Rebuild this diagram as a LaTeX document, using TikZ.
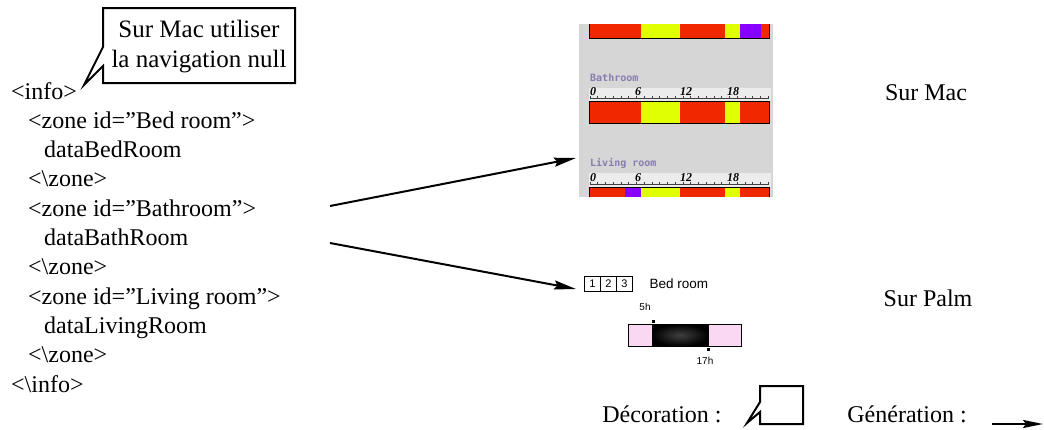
\documentclass[tikz,border=0pt]{standalone}
\usepackage{fontspec}
\setmainfont{Liberation Serif}
\setsansfont{Liberation Sans}
\setmonofont{DejaVu Sans Mono}
\usepackage{xcolor}
\usetikzlibrary{arrows.meta, positioning}

\definecolor{macred}{RGB}{240,40,0}
\definecolor{macyellow}{RGB}{224,255,0}
\definecolor{macpurple}{RGB}{136,0,255}
\definecolor{macgray}{RGB}{214,214,214}
\definecolor{macstrip}{RGB}{236,236,236}
\definecolor{maclabel}{RGB}{136,124,176}
\definecolor{palmpink}{RGB}{250,216,244}

\begin{document}
\begin{tikzpicture}[x=1pt, y=-1pt,
    xmlline/.style={anchor=base west, inner sep=0pt, font=\fontsize{24}{29}\selectfont},
    bigtext/.style={anchor=base, inner sep=0pt, font=\fontsize{24}{29}\selectfont},
    notetext/.style={anchor=base, inner sep=0pt, font=\fontsize{25}{30}\selectfont},
    roomname/.style={anchor=base west, inner sep=0pt, text=maclabel, font=\ttfamily\bfseries\fontsize{10}{10}\selectfont},
    hourmark/.style={anchor=base west, inner sep=0pt, font=\bfseries\itshape\fontsize{12}{12}\selectfont},
    hourtick/.style={line width=0.8pt, black!75},
    palmcell/.style={draw, line width=1pt, minimum width=16pt, minimum height=15pt, inner sep=0pt, outer sep=0pt, font=\sffamily\fontsize{11}{11}\selectfont},
    palmtext/.style={inner sep=0pt, font=\sffamily\fontsize{13.5}{14}\selectfont},
    palmhour/.style={inner sep=0pt, font=\sffamily\fontsize{10}{10}\selectfont},
    bubble/.style={line width=2pt, line join=miter},
    arrow/.style={line width=2pt, -{Stealth[length=22pt, width=9pt, inset=3pt]}}
]
    \useasboundingbox (0,0) rectangle (1044,429);

    % XML listing
    \node[xmlline] (l1) at (11,99) {<info>};
    \node[xmlline] (l2) at (28,128.3) {<zone id=”Bed room”>};
    \node[xmlline] (l3) at (44,157.6) {dataBedRoom};
    \node[xmlline] (l4) at (28,186.9) {<\textbackslash zone>};
    \node[xmlline] (l5) at (28,216.2) {<zone id=”Bathroom”>};
    \node[xmlline] (l6) at (44,245.5) {dataBathRoom};
    \node[xmlline] (l7) at (28,274.8) {<\textbackslash zone>};
    \node[xmlline] (l8) at (28,304.1) {<zone id=”Living room”>};
    \node[xmlline] (l9) at (44,333.4) {dataLivingRoom};
    \node[xmlline] (l10) at (28,362.7) {<\textbackslash zone>};
    \node[xmlline] (l11) at (11,392) {<\textbackslash info>};

    % Note bubble
    \draw[bubble] (103,8) -- (295,8) -- (295,83) -- (103,83) -- (103,66) -- (84,85) -- (103,47) -- cycle;
    \node[notetext] (note1) at (199,37) {Sur Mac utiliser};
    \node[notetext] (note2) at (199,67) {la navigation null};

    % Mac screenshot
    \fill[macgray] (579,24) rectangle (773,197);
    % top bar (cut)
    \fill[macred] (589,24) rectangle (641,38);
    \fill[macyellow] (641,24) rectangle (680,38);
    \fill[macred] (680,24) rectangle (725,38);
    \fill[macyellow] (725,24) rectangle (740,38);
    \fill[macpurple] (740,24) rectangle (761,38);
    \fill[macred] (761,24) rectangle (769,38);
    \draw[line width=1pt] (589,24) -- (589,38) -- (769,38) -- (769,24);

    % Bathroom
    \node[roomname] (bathname) at (590,81) {Bathroom};
    \fill[macstrip] (589,88) rectangle (771,101);
    \draw[hourtick] (590,98) -- (769,98);
    \foreach \h in {0,...,23}
        \draw[hourtick] ({590+7.75*\h},95.5) -- ++(0,3);
    \node[hourmark] (bath0) at (590,95) {0};
    \node[hourmark] (bath6) at (635,95) {6};
    \node[hourmark] (bath12) at (680,95) {12};
    \node[hourmark] (bath18) at (727,95) {18};
    \fill[macred] (589,101) rectangle (641,123);
    \fill[macyellow] (641,101) rectangle (680,123);
    \fill[macred] (680,101) rectangle (725,123);
    \fill[macyellow] (725,101) rectangle (740,123);
    \fill[macred] (740,101) rectangle (769,123);
    \draw[line width=1pt] (589,101) rectangle (769,123);

    % Living room
    \node[roomname] (livingname) at (590,166) {Living room};
    \fill[macstrip] (589,173) rectangle (771,187);
    \draw[hourtick] (590,184) -- (769,184);
    \foreach \h in {0,...,23}
        \draw[hourtick] ({590+7.75*\h},181.5) -- ++(0,3);
    \node[hourmark] (liv0) at (590,181) {0};
    \node[hourmark] (liv6) at (635,181) {6};
    \node[hourmark] (liv12) at (680,181) {12};
    \node[hourmark] (liv18) at (727,181) {18};
    \fill[macred] (589,187) rectangle (625,197);
    \fill[macpurple] (625,187) rectangle (641,197);
    \fill[macyellow] (641,187) rectangle (680,197);
    \fill[macred] (680,187) rectangle (725,197);
    \fill[macyellow] (725,187) rectangle (740,197);
    \fill[macred] (740,187) rectangle (769,197);
    \draw[line width=1pt] (589,197) -- (589,187) -- (769,187) -- (769,197);

    % Palm screenshot
    \node[palmcell] (c1) at (592.5,284) {1};
    \node[palmcell, right=0pt of c1] (c2) {2};
    \node[palmcell, right=0pt of c2] (c3) {3};
    \node[palmtext, right=17pt of c3] (bedroom) {Bed room};
    \node[palmhour] (h5) at (645,307) {5h};
    \fill (652,319.5) rectangle (655,322.5);
    \fill[palmpink] (628,324) rectangle (652,346);
    \shade[inner color=black!75, outer color=black] (652,324) rectangle (708,346);
    \fill[palmpink] (708,324) rectangle (741,346);
    \draw[line width=1pt] (628,324) rectangle (741,346);
    \draw[line width=1pt] (652,324) -- (652,346) (708,324) -- (708,346);
    \fill (707,348) rectangle (710,351);
    \node[palmhour] (h17) at (705,361) {17h};

    % Generation arrows
    \coordinate (srcmac) at (330,206);
    \coordinate (dstmac) at (576,158);
    \coordinate (srcpalm) at (330,243);
    \coordinate (dstpalm) at (576,289);
    \draw[arrow] (srcmac) -- (dstmac);
    \draw[arrow] (srcpalm) -- (dstpalm);

    % Device names
    \node[bigtext] (mac) at (926,100) {Sur Mac};
    \node[bigtext] (palm) at (928,306) {Sur Palm};

    % Legend
    \node[bigtext] (deco) at (662,422) {Décoration :};
    \draw[bubble] (760,386) -- (803,386) -- (803,424) -- (760,424) -- (760,412) -- (747,423) -- (760,402) -- cycle;
    \node[bigtext] (gene) at (907,422) {Génération :};
    \coordinate (genfrom) at (992,424);
    \coordinate (gento) at (1043,424);
    \draw[line width=2pt, -{Stealth[length=20pt, width=8pt, inset=3pt]}] (genfrom) -- (gento);
\end{tikzpicture}
\end{document}
